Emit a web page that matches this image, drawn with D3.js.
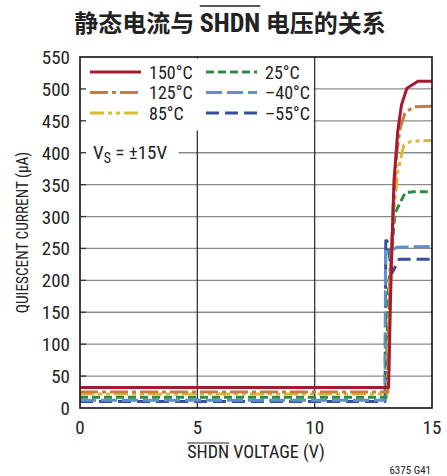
<!DOCTYPE html>
<html><head><meta charset="utf-8">
<script src="https://cdn.jsdelivr.net/npm/d3@7"></script>
<style>
body{margin:0;background:#fff;}
svg{display:block;}
.cn{font-family:"Noto Sans CJK SC",sans-serif;font-weight:700;}
.lat{font-family:"Liberation Sans Narrow","Arial Narrow","Roboto Condensed","Liberation Sans",sans-serif;}
</style></head>
<body><svg id="c" width="447" height="476"></svg>
<script>
// ---- data ----
const seriesNames = ["150°C","125°C","85°C","25°C","–40°C","–55°C"];
const v150 = [0,13.15,13.18,13.23,13.3,13.38,13.54,13.7,13.93,14.4,15];
const i150 = [32,32,80,169,260,356,434,475,501,512,512];
const v125 = [0,13.12,13.15,13.22,13.35,13.5,13.65,13.85,14.2,15];
const i125 = [25,25,100,200,320,400,440,462,472,473];
const v85  = [0,13.1,13.13,13.2,13.35,13.55,13.8,14.1,15];
const i85  = [22,22,100,200,300,372,412,418,419];
const v25  = [0,13.05,13.08,13.15,13.29,13.42,13.85,14.2,15];
const i25  = [17,17,100,190,247,305,337,339,339];
const vM40 = [0,13.0,13.02,13.3,13.5,15];
const iM40 = [12,12,245,247,252,253];
const vM55 = [0,13.0,13.03,13.08,13.3,13.6,15];
const iM55 = [10,10,262,262,212,233,233];
const xTicks = [0,5,10,15];
const yTicks = [0,50,100,150,200,250,300,350,400,450,500,550];

const colors = ["#a6192e","#c97c3c","#d9b933","#2e8b45","#5e8fcf","#3a4f9c"];
const dashes = [null,"18,4,4,4","14,4,4,4,4,4","8,4","16,5","13,6"];
const vs = [v150,v125,v85,v25,vM40,vM55];
const is = [i150,i125,i85,i25,iM40,iM55];

const svg = d3.select("#c");
const L=80,R=432,T=57,B=408;
const x = d3.scaleLinear().domain([0,15]).range([L,R]);
const y = d3.scaleLinear().domain([0,550]).range([B,T]);

// grid
svg.append("g").selectAll("line").data(yTicks.filter(d=>d>0&&d<550)).join("line")
  .attr("x1",L).attr("x2",R).attr("y1",d=>y(d)).attr("y2",d=>y(d))
  .attr("stroke","#8a8a8a").attr("stroke-width",1.3);
svg.append("g").selectAll("line").data(xTicks.filter(d=>d>0&&d<15)).join("line")
  .attr("y1",T).attr("y2",B).attr("x1",d=>x(d)).attr("x2",d=>x(d))
  .attr("stroke","#333").attr("stroke-width",1.3);

// series
const line = d3.line().x(d=>x(d[0])).y(d=>y(d[1]));
for(let k=5;k>=0;k--){
  const pts = vs[k].map((v,j)=>[v,is[k][j]]);
  svg.append("path").attr("d",line(pts)).attr("fill","none")
    .attr("stroke",colors[k]).attr("stroke-width",3)
    .attr("stroke-dasharray",dashes[k]).attr("stroke-linejoin","round");
}

// legend
svg.append("rect").attr("x",L+1.5).attr("y",T+1.5).attr("width",232).attr("height",72).attr("fill","#fff");
const lx=[90,206], ly=[72,92.5,113];
seriesNames.forEach((n,k)=>{
  const col = k<3?0:1, row=k%3;
  svg.append("line").attr("x1",lx[col]).attr("x2",lx[col]+51).attr("y1",ly[row]).attr("y2",ly[row])
    .attr("stroke",colors[k]).attr("stroke-width",3).attr("stroke-dasharray",dashes[k]);
  svg.append("text").attr("class","lat").attr("x",lx[col]+59).attr("y",ly[row]+6.5)
    .attr("font-size",18).attr("fill","#222").text(n);
});
// VS label
svg.append("rect").attr("x",L+1.5).attr("y",y(400)-12).attr("width",97).attr("height",24).attr("fill","#fff");
const vsT = svg.append("text").attr("class","lat").attr("x",93).attr("y",y(400)+6).attr("font-size",19).attr("fill","#222");
vsT.append("tspan").text("V");
vsT.append("tspan").attr("font-size",14).attr("dy",4).text("S");
vsT.append("tspan").attr("dy",-4).text(" = ±15V");

// frame
svg.append("rect").attr("x",L).attr("y",T).attr("width",R-L).attr("height",B-T)
  .attr("fill","none").attr("stroke","#111").attr("stroke-width",1.6);

// y ticks
svg.append("g").selectAll("text").data(yTicks).join("text").attr("class","lat")
  .attr("x",70).attr("y",d=>y(d)+7).attr("text-anchor","end").attr("font-size",19).attr("fill","#222").text(d=>d);
svg.append("g").selectAll("line").data(yTicks.filter(d=>d>0&&d<550)).join("line")
  .attr("x1",L).attr("x2",L+6).attr("y1",d=>y(d)).attr("y2",d=>y(d)).attr("stroke","#333").attr("stroke-width",1.3);
// x ticks
svg.append("g").selectAll("text").data(xTicks).join("text").attr("class","lat")
  .attr("x",d=>x(d)).attr("y",434).attr("text-anchor","middle").attr("font-size",19).attr("fill","#222").text(d=>d);

// overline helper
function overline(textSel, startIdx, len, dyOff, w){
  const n = textSel.node();
  const s = n.getStartPositionOfChar(startIdx);
  const e = n.getEndPositionOfChar(startIdx+len-1);
  svg.append("line").attr("x1",s.x).attr("x2",e.x).attr("y1",s.y-dyOff).attr("y2",s.y-dyOff)
    .attr("stroke","#222").attr("stroke-width",w);
}

// x title
const xt = svg.append("text").attr("class","lat").attr("x",(L+R)/2).attr("y",458)
  .attr("text-anchor","middle").attr("font-size",18).attr("fill","#222").text("SHDN VOLTAGE (V)");
overline(xt,0,4,15,1.2);

// y title
svg.append("text").attr("class","lat").attr("transform",`translate(28,${(T+B)/2}) rotate(-90) scale(0.9,1)`)
  .attr("text-anchor","middle").attr("font-size",17).attr("fill","#222").text("QUIESCENT CURRENT (µA)");

// title
const tt = svg.append("text").attr("x",230).attr("y",32).attr("text-anchor","middle").attr("font-size",24).attr("fill","#222");
tt.append("tspan").attr("class","cn").text("静态电流与 ");
tt.append("tspan").attr("class","lat").attr("font-weight",700).attr("font-size",26).text("SHDN");
tt.append("tspan").attr("class","cn").text(" 电压的关系");
overline(tt,6,4,26,1.5);

// footnote
svg.append("text").attr("class","lat").attr("x",431).attr("y",474).attr("text-anchor","end")
  .attr("font-size",11).attr("fill","#222").text("6375 G41");
</script></body></html>
